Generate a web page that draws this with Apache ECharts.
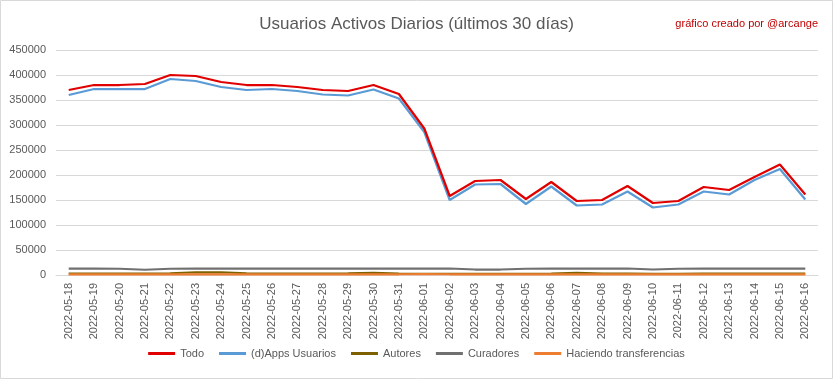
<!DOCTYPE html>
<html>
<head>
<meta charset="utf-8">
<script src="https://cdn.jsdelivr.net/npm/echarts@6/dist/echarts.min.js"></script>
<style>html,body{margin:0;padding:0;background:#fff}#c{width:833px;height:379px}</style>
</head>
<body>
<div id="c"></div>
<script>
const dates = ["2022-05-18","2022-05-19","2022-05-20","2022-05-21","2022-05-22","2022-05-23","2022-05-24","2022-05-25","2022-05-26","2022-05-27","2022-05-28","2022-05-29","2022-05-30","2022-05-31","2022-06-01","2022-06-02","2022-06-03","2022-06-04","2022-06-05","2022-06-06","2022-06-07","2022-06-08","2022-06-09","2022-06-10","2022-06-11","2022-06-12","2022-06-13","2022-06-14","2022-06-15","2022-06-16"];
const todo = [370000,380000,380000,382000,400000,398000,386000,380000,380000,376000,370000,368000,380000,362000,293000,158000,188000,190000,152000,186000,148000,150000,178000,144000,148000,176000,170000,196000,221000,161000];
const apps = [360000,372000,372000,372000,392000,388000,376000,370000,372000,368000,361000,359000,371000,353000,286000,150000,181000,182000,142000,177000,139000,141000,167000,135000,141000,167000,161000,190000,212000,151000];
const autores = [3000,3000,3000,3000,3500,5500,5500,3500,3000,3000,3000,3500,4500,3000,2500,2500,2500,2500,2500,3000,4500,3000,3000,2500,2500,3000,3000,3000,3000,3000];
const curadores = [13000,13000,12500,10500,12500,13000,13000,13000,13000,13000,13000,13000,13000,13000,13000,13000,11000,11000,12500,13000,13000,13000,13000,11000,12500,13000,13000,13000,13000,13000];
const haciendo = [1500,1500,1500,1500,1500,1500,1500,1500,1500,1500,1500,1500,1500,1500,2000,1500,1500,1500,1500,1500,1500,1500,1500,1500,1500,1500,1500,1500,1500,1500];
const yTicks = {min:0, max:450000, interval:50000};

const FONT = "Liberation Sans";
const chart = echarts.init(document.getElementById('c'), null, {renderer:'canvas'});
function s(name, data, color, z){
  return {name, type:'line', data, symbol:'none', z:z,
    lineStyle:{color, width:2.25}, itemStyle:{color}, animation:false};
}
chart.setOption({
  animation:false,
  backgroundColor:'#fff',
  textStyle:{fontFamily:FONT},
  title:[
    {text:'Usuarios Activos Diarios (últimos 30 días)', left:'center', top:11,
     textStyle:{fontFamily:FONT, fontSize:17, fontWeight:'normal', color:'#595959'}},
    {text:'gráfico creado por @arcange', right:10, top:13,
     textStyle:{fontFamily:FONT, fontSize:11, fontWeight:'normal', color:'#C00000'}}
  ],
  graphic:[{type:'rect', shape:{x:0.5,y:0.5,width:832,height:378}, style:{fill:'none', stroke:'#D9D9D9', lineWidth:1}, silent:true}],
  grid:{left:56, right:15, top:50, bottom:104, containLabel:false},
  legend:{bottom:15, left:'center', itemWidth:27, itemHeight:3, itemGap:15, icon:'rect',
    textStyle:{fontFamily:FONT, fontSize:11, color:'#595959'},
    data:['Todo','(d)Apps Usuarios','Autores','Curadores','Haciendo transferencias']},
  xAxis:{type:'category', data:dates, boundaryGap:true,
    axisLine:{lineStyle:{color:'#D9D9D9'}}, axisTick:{show:false},
    axisLabel:{interval:0, rotate:90, fontFamily:FONT, fontSize:11, color:'#595959', margin:8}},
  yAxis:{type:'value', min:yTicks.min, max:yTicks.max, interval:yTicks.interval,
    axisLine:{show:false}, axisTick:{show:false},
    splitLine:{lineStyle:{color:'#D9D9D9', width:1}},
    axisLabel:{fontFamily:FONT, fontSize:11, color:'#595959', margin:10, formatter:function(v){return String(v);}}},
  series:[
    s('Todo', todo, '#E00000', 5),
    s('(d)Apps Usuarios', apps, '#5B9BD5', 4),
    s('Autores', autores, '#7F6000', 3),
    s('Curadores', curadores, '#707070', 2),
    s('Haciendo transferencias', haciendo, '#ED7D31', 3)
  ]
});
</script>
</body>
</html>
